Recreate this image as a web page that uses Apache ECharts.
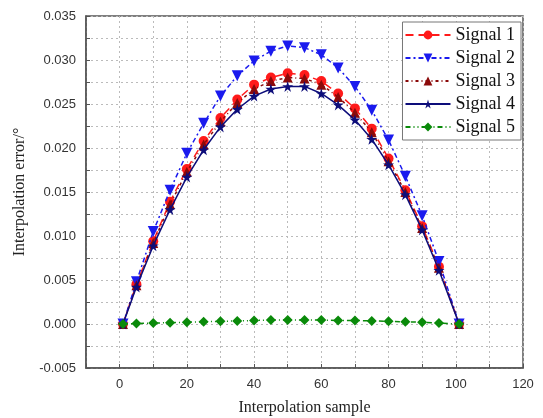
<!DOCTYPE html>
<html>
<head>
<meta charset="utf-8">
<script src="https://cdn.jsdelivr.net/npm/echarts@6/dist/echarts.min.js"></script>
<style>
  html, body { margin: 0; padding: 0; background: #fff; }
  #chart { width: 543px; height: 418px; }
</style>
</head>
<body>
<div id="chart"></div>
<script>
// Interpolation sample positions
var samples = [1, 5, 10, 15, 20, 25, 30, 35, 40, 45, 50, 55, 60, 65, 70, 75, 80, 85, 90, 95, 101];

// Interpolation error (degrees) for each test signal
var signal1 = [0, 0.0045, 0.0094, 0.0139, 0.0176, 0.0208, 0.0234, 0.0255, 0.0272, 0.0280, 0.0285, 0.0283, 0.0276, 0.0262, 0.0245, 0.0222, 0.0188, 0.0152, 0.0111, 0.0065, 0];
var signal2 = [0, 0.0048, 0.0105, 0.0152, 0.0194, 0.0228, 0.0259, 0.0282, 0.0299, 0.0310, 0.0316, 0.0314, 0.0306, 0.0291, 0.0270, 0.0243, 0.0209, 0.0168, 0.0123, 0.0071, 0];
var signal3 = [0, 0.0044, 0.0092, 0.0136, 0.0173, 0.0204, 0.0230, 0.0251, 0.0267, 0.0276, 0.0280, 0.0279, 0.0272, 0.0258, 0.0240, 0.0218, 0.0185, 0.0150, 0.0109, 0.0064, 0];
var signal4 = [0, 0.0042, 0.0089, 0.0130, 0.0167, 0.0198, 0.0224, 0.0244, 0.0259, 0.0267, 0.0270, 0.0270, 0.0262, 0.0249, 0.0232, 0.0210, 0.0181, 0.0147, 0.0107, 0.0061, 0];
var signal5 = [0, 0.00005, 0.0001, 0.00015, 0.0002, 0.00025, 0.0003, 0.00035, 0.0004, 0.00045, 0.00045, 0.00045, 0.00045, 0.0004, 0.0004, 0.00035, 0.0003, 0.00025, 0.0002, 0.0001, 0];

var seriesNames = ['Signal 1', 'Signal 2', 'Signal 3', 'Signal 4', 'Signal 5'];

function pairs(ys) {
  return samples.map(function (x, i) { return [x, ys[i]]; });
}

var serif = '"Liberation Serif", "Times New Roman", serif';
var sans = '"Liberation Sans", Arial, sans-serif';
var frameColor = '#555';
var gridLine = { show: true, lineStyle: { color: '#bbb', type: [2, 3], width: 1 } };

var styles = [
  { color: '#ff1a1a', dash: [8, 5], symbol: 'circle', size: 10 },
  { color: '#1a1aee', dash: [5, 3, 2, 3], symbol: 'triangle', size: 11, rotate: 180 },
  { color: '#8b0a0a', dash: [3, 3, 1, 3], symbol: 'triangle', size: 10 },
  { color: '#0d0d7a', dash: 'solid', symbol: 'path://M50,0 L61,35 L98,35 L68,57 L79,91 L50,70 L21,91 L32,57 L2,35 L39,35 Z', size: 11 },
  { color: '#0a8a0a', dash: [5, 3, 1, 3, 1, 3], symbol: 'diamond', size: 10 }
];
var datasets = [signal1, signal2, signal3, signal4, signal5];

var series = datasets.map(function (d, i) {
  var s = styles[i];
  return {
    name: seriesNames[i],
    type: 'line',
    data: pairs(d),
    symbol: s.symbol,
    symbolSize: s.size,
    symbolRotate: s.rotate || 0,
    showAllSymbol: true,
    itemStyle: { color: s.color },
    lineStyle: { color: s.color, width: 1.5, type: s.dash },
    z: 2 + i
  };
});

var chart = echarts.init(document.getElementById('chart'), null, { renderer: 'canvas' });
chart.setOption({
  animation: false,
  backgroundColor: '#fff',
  grid: {
    left: 86, right: 20, top: 16, bottom: 50,
    outerBoundsMode: 'none',
    containLabel: false,
    show: true, borderColor: frameColor, borderWidth: 1.5, backgroundColor: 'transparent'
  },
  legend: {
    orient: 'vertical',
    right: 22, top: 22,
    itemWidth: 45, itemHeight: 11, itemGap: 5,
    padding: [4, 6, 4, 2],
    backgroundColor: '#fff',
    borderColor: '#777', borderWidth: 1,
    textStyle: { fontFamily: serif, fontSize: 18, color: '#111' },
    data: seriesNames
  },
  xAxis: {
    type: 'value',
    min: -10, max: 120, interval: 10,
    name: 'Interpolation sample',
    nameLocation: 'middle', nameGap: 32,
    nameTextStyle: { fontFamily: serif, fontSize: 16, color: '#222' },
    axisLine: { show: true, onZero: false, lineStyle: { color: frameColor, width: 1.5 } },
    axisTick: { show: true, inside: true, length: 4, lineStyle: { color: frameColor } },
    axisLabel: {
      fontFamily: sans, fontSize: 13, color: '#333', margin: 10,
      formatter: function (v) { return (v >= 0 && v % 20 === 0) ? String(v) : ''; }
    },
    splitLine: gridLine
  },
  yAxis: {
    type: 'value',
    min: -0.005, max: 0.035, interval: 0.0025,
    name: 'Interpolation error/°',
    nameLocation: 'middle', nameGap: 55,
    nameTextStyle: { fontFamily: serif, fontSize: 16, color: '#222' },
    axisLine: { show: true, onZero: false, lineStyle: { color: frameColor, width: 1.5 } },
    axisTick: { show: true, inside: true, length: 4, lineStyle: { color: frameColor } },
    axisLabel: {
      fontFamily: sans, fontSize: 13, color: '#333', margin: 10,
      formatter: function (v) {
        var k = Math.round(v / 0.0025);
        return k % 2 === 0 ? v.toFixed(3) : '';
      }
    },
    splitLine: gridLine
  },
  series: series
});
</script>
</body>
</html>
